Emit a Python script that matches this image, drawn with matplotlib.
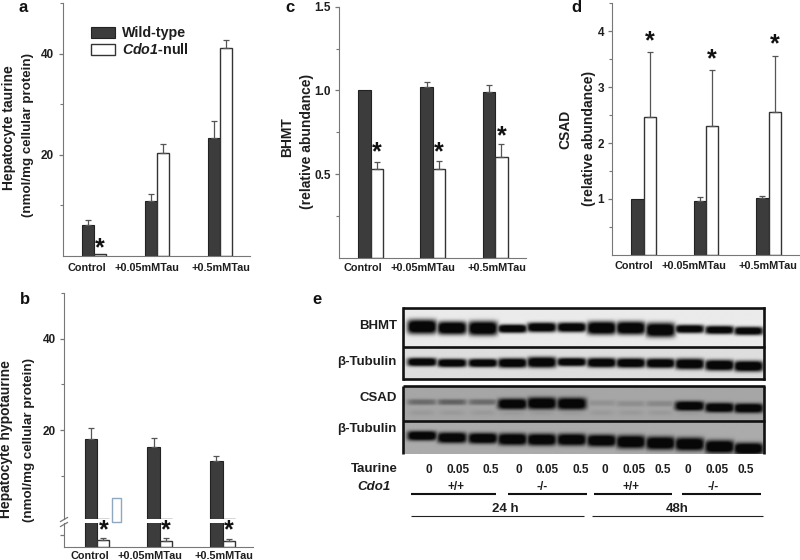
import numpy as np
import matplotlib
matplotlib.use('Agg')
import matplotlib.pyplot as plt
from matplotlib.patches import Rectangle

plt.rcParams['font.family'] = ['Liberation Sans', 'DejaVu Sans']
plt.rcParams['font.weight'] = 'bold'
plt.rcParams['mathtext.fontset'] = 'custom'
plt.rcParams['mathtext.bfit'] = 'Liberation Sans:italic:bold'
plt.rcParams['mathtext.bf'] = 'Liberation Sans:bold'
plt.rcParams['mathtext.rm'] = 'Liberation Sans:bold'
plt.rcParams['mathtext.it'] = 'Liberation Sans:italic:bold'

groups = ['Control', '+0.05mMTau', '+0.5mMTau']

# panel a
a_wt = [6.2, 10.8, 23.3]
a_wt_top = [7.2, 12.2, 26.6]
a_ko = [0.3, 20.4, 41.2]
a_ko_top = [0.3, 22.1, 42.6]
# panel b
b_wt = [18.0, 16.4, 13.2]
b_wt_top = [20.4, 18.2, 14.3]
b_ko = [0.55, 0.5, 0.5]
b_ko_top = [0.7, 0.7, 0.65]
# panel c
c_wt = [1.0, 1.02, 0.99]
c_wt_top = [1.0, 1.05, 1.03]
c_ko = [0.53, 0.53, 0.60]
c_ko_top = [0.57, 0.58, 0.68]
# panel d
d_wt = [1.0, 0.97, 1.02]
d_wt_top = [1.0, 1.03, 1.05]
d_ko = [2.46, 2.30, 2.55]
d_ko_top = [3.62, 3.31, 3.56]

# blots: lane x, then band centre / thickness / darkness per strip
lane_x = [421.7, 451.7, 482.7, 512.3, 541.7, 571.7, 601.7, 631, 660.7, 690, 720, 749]
bhmt_y = [326.7, 328, 328.3, 328.7, 327.3, 327.3, 328, 328, 330, 329, 330, 331]
bhmt_t = [12, 11, 12, 7, 8, 8, 11, 11, 12, 7, 7, 7]
bhmt_d = [1, 1, 1, 1, 1, 1, 1, 1, 1, 0.95, 0.95, 0.95]
tub1_y = [362, 363, 363, 363, 362.3, 362, 362.7, 363, 363.3, 364, 365.3, 366.3]
tub1_t = [7, 7, 7, 8, 9, 7, 8, 8, 8, 9, 9, 9]
tub1_d = [1] * 12
csad_y = [402, 402, 402, 404, 403.3, 403.7, 403, 403.7, 403.7, 406, 407.7, 408.3]
csad_t = [5, 5, 5, 9, 10, 10, 5, 5, 5, 8, 8, 8]
csad_d = [0.3, 0.35, 0.3, 1, 1, 1, 0.1, 0.12, 0.15, 1, 1, 1]
tub2_y = [435.7, 437.7, 438.3, 439.3, 439.7, 439.7, 440.7, 442, 443.3, 444.3, 447, 449]
tub2_t = [8, 9, 9, 10, 10, 10, 10, 11, 11, 11, 11, 10]
tub2_d = [1] * 12

taurine = ['0', '0.05', '0.5'] * 4
taurine_x = [429.3, 457.7, 490.7, 519, 547.3, 580.7, 605, 633.7, 663, 688, 716.7, 746]
cdo1 = ['+/+', '-/-', '+/+', '-/-']
cdo1_x = [455.7, 541.7, 630.7, 712.7]

DARK = '#3c3c3c'
AXC = '#777777'
TXT = '#1e1e1e'


def axes_px(fig, l, t, r, b):
    return fig.add_axes([l / 800, 1 - b / 560, (r - l) / 800, (b - t) / 560])


def draw_bars(ax, wt, wt_top, ko, ko_top, c0, pitch, l, r):
    x = np.arange(3)
    w = 12.4 / pitch
    ax.set_xlim((l - c0) / pitch, (r - c0) / pitch)
    b1 = ax.bar(x - w / 2, wt, w, color=DARK, edgecolor='#222222', linewidth=0.8, label='Wild-type')
    b2 = ax.bar(x + w / 2, ko, w, color='white', edgecolor='#333333', linewidth=1.0,
                label=r'$\mathbfit{Cdo1}$-null')
    for xs, v, top in [(x - w / 2, np.array(wt), np.array(wt_top)), (x + w / 2, np.array(ko), np.array(ko_top))]:
        keep = top > v
        ax.errorbar(xs[keep], v[keep], yerr=[np.zeros(keep.sum()), (top - v)[keep]], fmt='none',
                    ecolor='#555555', elinewidth=0.9, capsize=2.4, capthick=0.9, zorder=1)
    style(ax)
    return b1, b2


def style(ax):
    ax.patch.set_alpha(0)
    ax.spines['top'].set_visible(False)
    ax.spines['right'].set_visible(False)
    ax.spines['left'].set_color(AXC)
    ax.spines['bottom'].set_color(AXC)
    ax.set_xticks([])
    ax.tick_params(axis='y', which='major', length=3, width=0.9, color=AXC, labelsize=8.5,
                   labelcolor=TXT, pad=3)
    ax.tick_params(axis='y', which='minor', length=2, width=0.8, color=AXC)


def strip(ov, x0, x1, y0, y1, bg, ys, ts, ds, faint=None):
    xx, yy = np.meshgrid(np.arange(x0, x1 + 1), np.arange(y0, y1 + 1))
    mask = np.zeros_like(xx, dtype=float)
    for lx, y, t, d in zip(lane_x, ys, ts, ds):
        m = np.exp(-np.abs((xx - lx) / 15) ** 6) * np.exp(-np.abs((yy - y) / (t * 0.62)) ** 3)
        mask = np.maximum(mask, d * m)
        if faint is not None:
            m2 = np.exp(-np.abs((xx - lx) / 13) ** 4) * np.exp(-np.abs((yy - faint) / 3) ** 2)
            mask = np.maximum(mask, 0.06 * m2)
    img = bg - (bg - 0.03) * np.clip(mask * 1.25, 0, 1)
    ov.imshow(img, cmap='gray', vmin=0, vmax=1, extent=(x0, x1, y1, y0), aspect='auto',
              interpolation='bilinear')


fig = plt.figure(figsize=(8, 5.6), dpi=100)

# a
ax_a = axes_px(fig, 62.5, 3, 250, 256)
h = draw_bars(ax_a, a_wt, a_wt_top, a_ko, a_ko_top, 94, 63, 62.5, 250)
ax_a.set_ylim(0, 50)
ax_a.set_yticks([20, 40])
ax_a.set_yticks([10, 30, 50], minor=True)
ax_a.legend(handles=list(h), loc='upper left', bbox_to_anchor=(0.152, 0.908), frameon=False, fontsize=10.3,
            handlelength=1.7, handleheight=0.82, labelspacing=0.14, handletextpad=0.5,
            borderpad=0, borderaxespad=0, labelcolor=TXT)

# b, broken axis
ax_b = axes_px(fig, 64, 293, 253, 519)
draw_bars(ax_b, b_wt, b_wt_top, b_ko, b_ko, 97, 62.8, 64, 253)
ax_b.set_ylim(0.6, 50)
ax_b.spines['bottom'].set_visible(False)
ax_b.set_yticks([20, 40])
ax_b.set_yticks([10, 30, 50], minor=True)
ax_b2 = axes_px(fig, 64, 523, 253, 546.7)
draw_bars(ax_b2, b_wt, b_wt, b_ko, b_ko_top, 97, 62.8, 64, 253)
ax_b2.set_ylim(0, 2)
ax_b2.set_yticks([1])
ax_b2.set_yticklabels([])

# c
ax_c = axes_px(fig, 339.3, 6.7, 526, 257.7)
draw_bars(ax_c, c_wt, c_wt_top, c_ko, c_ko_top, 370.5, 62.3, 339.3, 526)
ax_c.set_ylim(0, 1.5)
ax_c.set_yticks([0.5, 1.0, 1.5])
ax_c.set_yticks([0.25, 0.75, 1.25], minor=True)

# d
ax_d = axes_px(fig, 612.3, 3, 800, 255)
draw_bars(ax_d, d_wt, d_wt_top, d_ko, d_ko_top, 643.5, 62.5, 612.3, 800)
ax_d.set_ylim(0, 4.5)
ax_d.set_yticks([1, 2, 3, 4])
ax_d.set_yticks([0.5, 1.5, 2.5, 3.5, 4.5], minor=True)

# overlay in pixel coordinates for labels and the blots
ov = fig.add_axes([0, 0, 1, 1], zorder=5)
ov.patch.set_alpha(0)

strip(ov, 404, 764, 309, 347, 0.92, bhmt_y, bhmt_t, bhmt_d)
strip(ov, 404, 764, 347, 379, 0.87, tub1_y, tub1_t, tub1_d)
strip(ov, 404, 764, 386, 421, 0.65, csad_y, csad_t, csad_d, faint=413)
strip(ov, 404, 764, 421, 454, 0.67, tub2_y, tub2_t, tub2_d)

ov.set_xlim(0, 800)
ov.set_ylim(560, 0)
ov.axis('off')

for y in [308.3, 346.7, 378.7, 386, 420.7]:
    ov.plot([402.5, 765], [y, y], color='#111111', lw=1.9, solid_capstyle='butt')
for x in [403.3, 764]:
    ov.plot([x, x], [308.3, 378.7], color='#111111', lw=1.9)
    ov.plot([x, x], [386, 454], color='#111111', lw=1.9, solid_capstyle='butt')

for y, s in zip([326, 362, 397.7, 429.3], ['BHMT', 'β-Tubulin', 'CSAD', 'β-Tubulin']):
    ov.text(396.7, y, s, ha='right', va='center', fontsize=9.5, color=TXT)

ov.text(374, 469.5, 'Taurine', ha='center', va='center', fontsize=9.5, color=TXT)
ov.text(374, 487, 'Cdo1', ha='center', va='center', fontsize=9.5, style='italic', color=TXT)
for x, s in zip(taurine_x, taurine):
    ov.text(x, 470, s, ha='center', va='center', fontsize=8.5, color=TXT)
for x, s in zip(cdo1_x, cdo1):
    ov.text(x, 487, s, ha='center', va='center', fontsize=8.5, color=TXT)
for x0, x1 in [(411, 496), (507.7, 586.7), (594, 671.7), (682.3, 760.7)]:
    ov.plot([x0, x1], [493.7, 493.7], color='#111111', lw=1.5, solid_capstyle='butt')
for x0, x1 in [(411, 584.3), (592.3, 762.7)]:
    ov.plot([x0, x1], [515.7, 515.7], color='#222222', lw=0.8, solid_capstyle='butt')
ov.text(505.7, 509, '24 h', ha='center', va='center', fontsize=9.5, color=TXT)
ov.text(676.7, 509, '48h', ha='center', va='center', fontsize=9.5, color=TXT)

# panel letters
for x, y, s in [(22.7, 8, 'a'), (25, 300, 'b'), (290, 8, 'c'), (576.7, 7, 'd'), (317, 300, 'e')]:
    ov.text(x, y, s, ha='center', va='center', fontsize=12, color='#111111')

# group labels
for xs, y in [([86.7, 147, 221], 268), ([90, 150.3, 223.7], 556),
              ([363.3, 423.3, 497.3], 268.3), ([634.3, 694.3, 767.7], 265.7)]:
    for x, s in zip(xs, groups):
        ov.text(x, y, s, ha='center', va='center', fontsize=7.8, color=TXT)

# y labels
ylabels = [(9, 127.5, 'Hepatocyte taurine', 10), (28, 135, '(nmol/mg cellular protein)', 9.6),
           (6, 439, 'Hepatocyte hypotaurine', 10), (29, 440, '(nmol/mg cellular protein)', 9.6),
           (286.7, 136.7, 'BHMT', 10), (306.7, 141, '(relative abundance)', 10),
           (565, 129, 'CSAD', 10), (589.3, 138, '(relative abundance)', 10)]
for x, y, s, fs in ylabels:
    ov.text(x, y, s, rotation=90, ha='center', va='center', fontsize=fs, color=TXT)

# significance stars
stars = [(100, 243), (103.7, 525), (165.7, 525), (229, 525), (376.7, 147), (438.7, 147),
         (501.3, 131.7), (650, 36.7), (711.3, 54.3), (775, 39.3)]
for x, y in stars:
    ov.text(x, y + 12, '*', ha='center', va='baseline', fontsize=18, color='#111111')

# axis break marks and the stray box in panel b
for y in [519.5, 524.5]:
    ov.plot([60.5, 67.5], [y + 2, y - 2], color=AXC, lw=0.9)
ov.add_patch(Rectangle((112.3, 497.5), 8.3, 24.5, fill=False, edgecolor='#8fa8c0', lw=1))

fig.savefig('out.png', dpi=100)
